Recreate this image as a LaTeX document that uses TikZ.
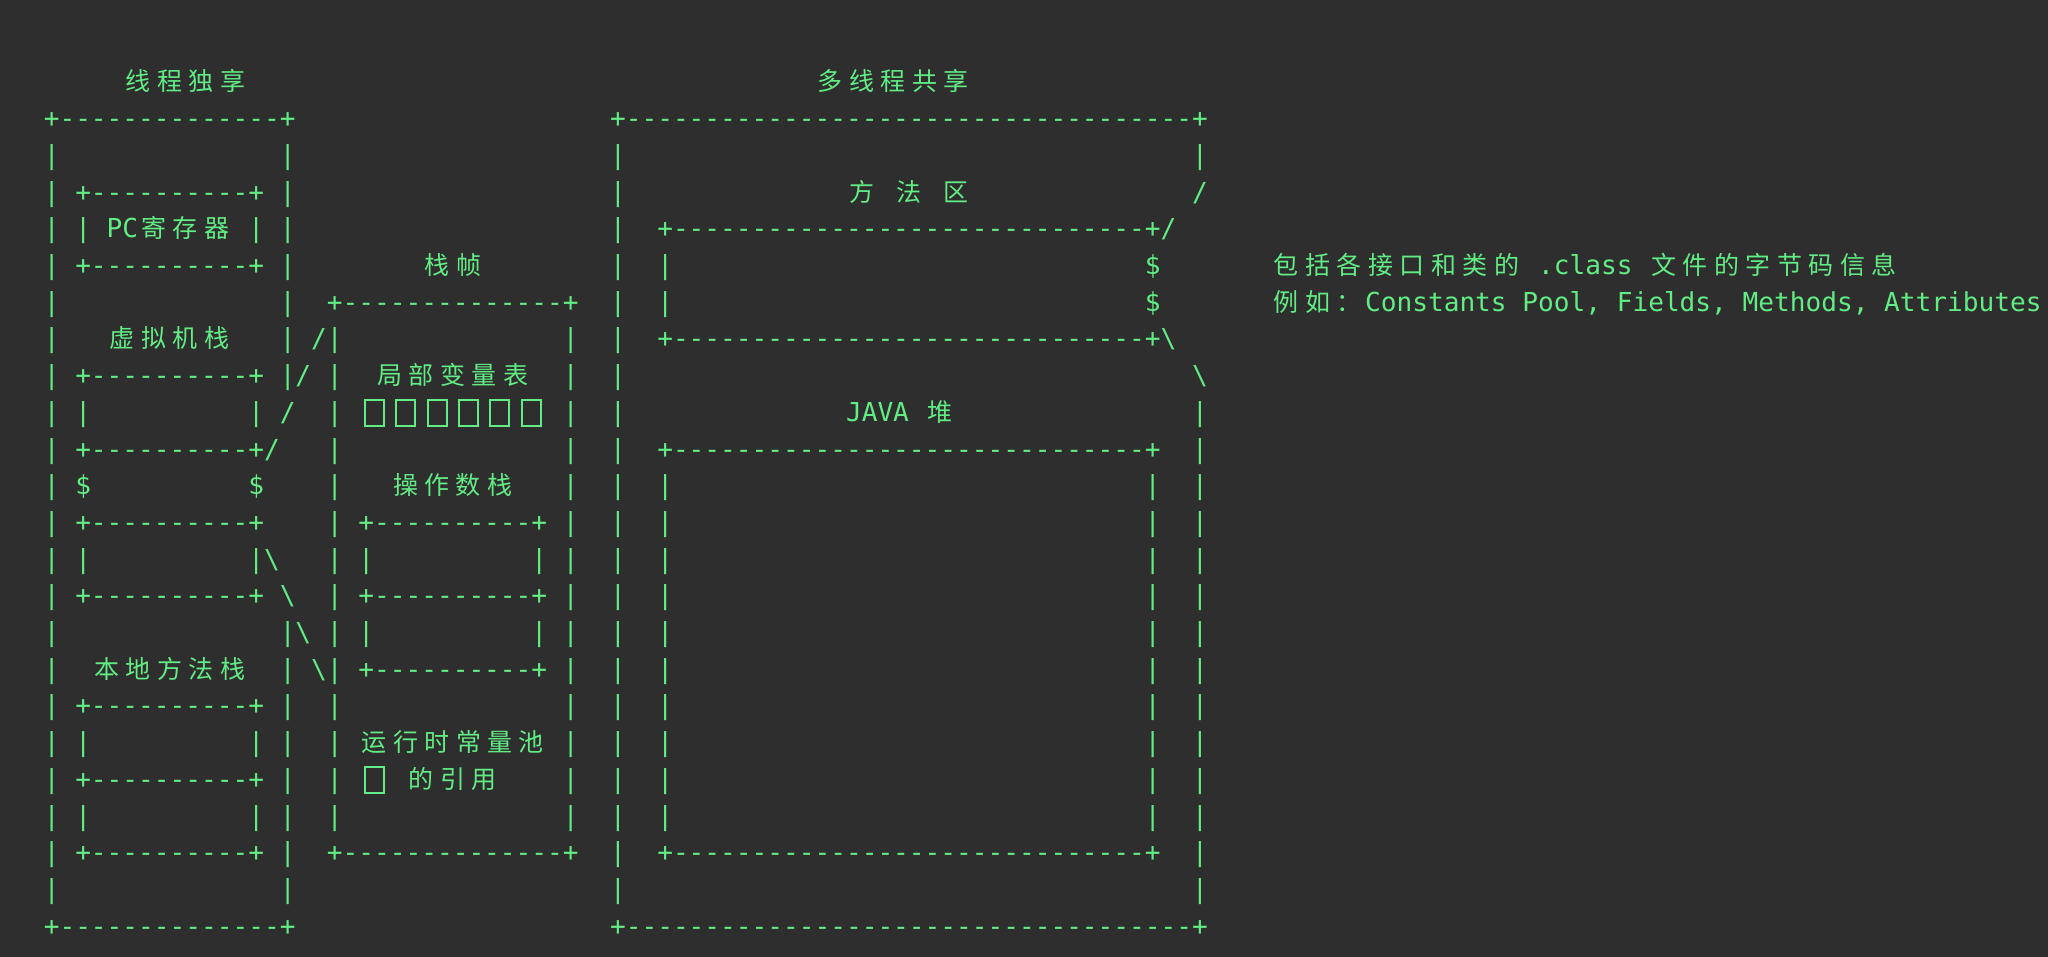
\documentclass[tikz,border=0pt]{standalone}
\usepackage{fontspec}
\setmonofont{DejaVu Sans Mono}
\newfontfamily\cjkf{Noto Sans CJK SC}
\definecolor{bg}{RGB}{46,46,46}
\definecolor{fg}{RGB}{98,236,132}
\newlength\cw \setlength\cw{15.73pt}
\makeatletter
\def\Z#1{\Z@loop#1\relax}
\def\Z@loop#1{\ifx#1\relax\else\makebox[2\cw][c]{\cjkf\fontsize{25pt}{30pt}\selectfont#1}\expandafter\Z@loop\fi}
\makeatother
\ExplSyntaxOn
\cs_new:Npn \reps #1#2 { \prg_replicate:nn {#1} {#2} }
\ExplSyntaxOff
\newcommand\dd[1]{\reps{#1}{-\kern0pt}}
\newcommand\bsl{\textbackslash}
\newcounter{tn}
\newcommand\T[3]{\stepcounter{tn}\node[txt] (t\arabic{tn}) at ({43.8+15.73*(#1)},{-(127.7+36.7*(#2))}) {#3};}
\newcommand\B[2]{\stepcounter{tn}\node[tofu] (b\arabic{tn}) at ({43.8+15.73*(#1+1)},{-(119.7+36.7*(#2))}) {};}
\tikzset{
  txt/.style={anchor=base west, inner sep=0pt, outer sep=0pt, text=fg,
    font=\ttfamily\fontsize{26.13pt}{30pt}\selectfont},
  tofu/.style={draw=fg, line width=2pt, minimum width=19pt, minimum height=26pt, inner sep=0pt}
}
\begin{document}
\begin{tikzpicture}[x=1pt,y=1pt]
\fill[bg] (0,0) rectangle (2048,-957);
\useasboundingbox (0,0) rectangle (2048,-957);
% titles
\T{5}{-1}{\Z{线程独享}}
\T{49}{-1}{\Z{多线程共享}}
% row 0
\T{0}{0}{+\dd{14}+}
\T{36}{0}{+\dd{36}+}
% row 1
\T{0}{1}{|}\T{15}{1}{|}\T{36}{1}{|}\T{73}{1}{|}
% row 2
\T{0}{2}{|~+\dd{10}+~|}
\T{36}{2}{|}\T{51}{2}{\Z{方}~\Z{法}~\Z{区}}\T{73}{2}{/}
% row 3
\T{0}{3}{|~|~PC\Z{寄存器}~|~|}
\T{36}{3}{|~~+\dd{30}+/}
% row 4
\T{0}{4}{|~+\dd{10}+~|}
\T{24}{4}{\Z{栈帧}}
\T{36}{4}{|~~|}\T{70}{4}{\$}
\T{78}{4}{\Z{包括各接口和类的}~.class~\Z{文件的字节码信息}}
% row 5
\T{0}{5}{|}\T{15}{5}{|}\T{18}{5}{+\dd{14}+}
\T{36}{5}{|~~|}\T{70}{5}{\$}
\T{78}{5}{\Z{例如：}Constants~Pool,~Fields,~Methods,~Attributes}
% row 6
\T{0}{6}{|}\T{4}{6}{\Z{虚拟机栈}}\T{15}{6}{|~/|}\T{33}{6}{|}
\T{36}{6}{|~~+\dd{30}+\bsl}
% row 7
\T{0}{7}{|~+\dd{10}+~|/~|}\T{21}{7}{\Z{局部变量表}}\T{33}{7}{|}
\T{36}{7}{|}\T{73}{7}{\bsl}
% row 8
\T{0}{8}{|~|}\T{13}{8}{|~/~~|}
\B{20}{8}\B{22}{8}\B{24}{8}\B{26}{8}\B{28}{8}\B{30}{8}
\T{33}{8}{|}
\T{36}{8}{|}\T{51}{8}{JAVA~\Z{堆}}\T{73}{8}{|}
% row 9
\T{0}{9}{|~+\dd{10}+/}\T{18}{9}{|}\T{33}{9}{|}
\T{36}{9}{|~~+\dd{30}+~~|}
% row 10
\T{0}{10}{|~\$}\T{13}{10}{\$}\T{18}{10}{|}\T{22}{10}{\Z{操作数栈}}\T{33}{10}{|}
\T{36}{10}{|~~|}\T{70}{10}{|~~|}
% row 11
\T{0}{11}{|~+\dd{10}+}\T{18}{11}{|~+\dd{10}+~|}
\T{36}{11}{|~~|}\T{70}{11}{|~~|}
% row 12
\T{0}{12}{|~|}\T{13}{12}{|\bsl}\T{18}{12}{|~|}\T{31}{12}{|~|}
\T{36}{12}{|~~|}\T{70}{12}{|~~|}
% row 13
\T{0}{13}{|~+\dd{10}+~\bsl}\T{18}{13}{|~+\dd{10}+~|}
\T{36}{13}{|~~|}\T{70}{13}{|~~|}
% row 14
\T{0}{14}{|}\T{15}{14}{|\bsl~|~|}\T{31}{14}{|~|}
\T{36}{14}{|~~|}\T{70}{14}{|~~|}
% row 15
\T{0}{15}{|}\T{3}{15}{\Z{本地方法栈}}\T{15}{15}{|~\bsl|~+\dd{10}+~|}
\T{36}{15}{|~~|}\T{70}{15}{|~~|}
% row 16
\T{0}{16}{|~+\dd{10}+~|~~|}\T{33}{16}{|}
\T{36}{16}{|~~|}\T{70}{16}{|~~|}
% row 17
\T{0}{17}{|~|}\T{13}{17}{|~|~~|}\T{20}{17}{\Z{运行时常量池}}\T{33}{17}{|}
\T{36}{17}{|~~|}\T{70}{17}{|~~|}
% row 18
\T{0}{18}{|~+\dd{10}+~|~~|}\B{20}{18}\T{23}{18}{\Z{的引用}}\T{33}{18}{|}
\T{36}{18}{|~~|}\T{70}{18}{|~~|}
% row 19
\T{0}{19}{|~|}\T{13}{19}{|~|~~|}\T{33}{19}{|}
\T{36}{19}{|~~|}\T{70}{19}{|~~|}
% row 20
\T{0}{20}{|~+\dd{10}+~|~~+\dd{14}+}
\T{36}{20}{|~~+\dd{30}+~~|}
% row 21
\T{0}{21}{|}\T{15}{21}{|}\T{36}{21}{|}\T{73}{21}{|}
% row 22
\T{0}{22}{+\dd{14}+}
\T{36}{22}{+\dd{36}+}
\end{tikzpicture}
\end{document}
